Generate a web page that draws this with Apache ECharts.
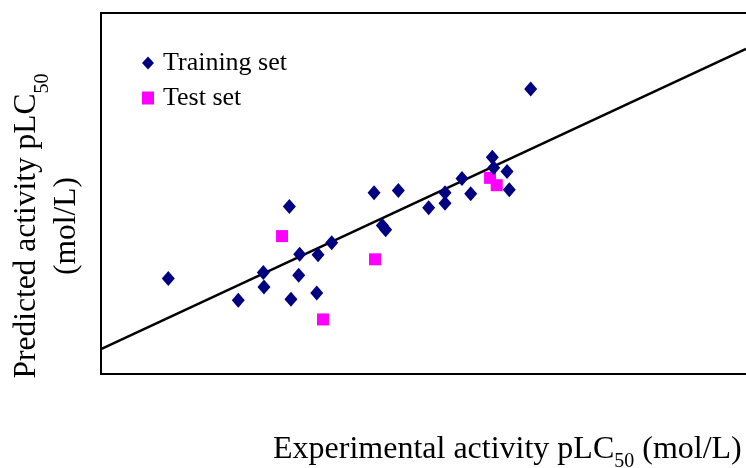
<!DOCTYPE html>
<html><head><meta charset="utf-8">
<script src="https://cdn.jsdelivr.net/npm/echarts@6/dist/echarts.min.js"></script>
<style>html,body{margin:0;padding:0;background:#fff}#c{width:746px;height:468px}</style>
</head><body><div id="c"></div>
<script>
// Training set: [experimental, predicted]
const trainingSet = [
  [3.626,4.586],[4.277,4.227],[4.510,4.686],[4.516,4.447],[4.752,5.785],
  [4.767,4.243],[4.839,4.641],[4.848,4.989],[5.007,4.348],[5.019,4.984],
  [5.146,5.183],[5.540,6.012],[5.617,5.470],[5.648,5.398],[5.766,6.050],
  [6.048,5.763],[6.200,6.012],[6.200,5.839],[6.358,6.249],[6.439,5.995],
  [6.640,6.602],[6.653,6.426],[6.777,6.365],[6.798,6.061],[6.997,7.735]
];
// Test set
const testSet = [
  [4.684,5.292],[5.549,4.906],[5.065,3.907],[6.619,6.260],[6.681,6.138]
];
// Regression line endpoints
const fitLine = [[3,3.414],[9,8.404]];
const axisMin = 3, axisMax = 9;

const serif = "'Liberation Serif','Times New Roman',serif";
const axisCommon = {type:'value',min:axisMin,max:axisMax,axisLine:{show:true,onZero:false,lineStyle:{color:'#000',width:2}},axisTick:{show:false},axisLabel:{show:false},splitLine:{show:false}};
const chart = echarts.init(document.getElementById('c'));
chart.setOption({
  animation:false,
  backgroundColor:'#fff',
  grid:{left:101,top:13,right:0,bottom:94,show:false},
  xAxis:[Object.assign({position:'bottom'},axisCommon),Object.assign({position:'top'},axisCommon)],
  yAxis:Object.assign({},axisCommon),
  legend:{
    orient:'vertical',left:142,top:50,padding:0,itemGap:9,itemWidth:12,itemHeight:13,
    textStyle:{fontFamily:serif,fontSize:26,lineHeight:26,color:'#000',padding:[0,0,0,4]},
    data:[{name:'Training set',icon:'diamond'},{name:'Test set',icon:'rect'}]
  },
  graphic:[
    {type:'text',x:273,y:434,style:{text:'Experimental activity pLC{s|50} (mol/L)',fontFamily:serif,fontSize:32,fill:'#000',
      rich:{s:{fontFamily:serif,fontSize:20,fill:'#000',verticalAlign:'bottom',padding:[0,0,-6,0]}}}},
    {type:'text',x:47,y:226,rotation:Math.PI/2,style:{text:'Predicted activity pLC{s|50}\n(mol/L)',fontFamily:serif,fontSize:31.5,lineHeight:40,fill:'#000',align:'center',verticalAlign:'middle',
      rich:{s:{fontFamily:serif,fontSize:20,fill:'#000',verticalAlign:'bottom',padding:[0,0,-6,0]}}}}
  ],
  series:[
    {type:'line',data:fitLine,symbol:'none',lineStyle:{color:'#000',width:2.5},silent:true,z:1,legendHoverLink:false},
    {name:'Training set',type:'scatter',data:trainingSet,symbol:'diamond',symbolSize:[13,15],itemStyle:{color:'#000080',opacity:1},z:3},
    {name:'Test set',type:'scatter',data:testSet,symbol:'rect',symbolSize:12,itemStyle:{color:'#FF00FF',opacity:1},z:2}
  ]
});
</script></body></html>
